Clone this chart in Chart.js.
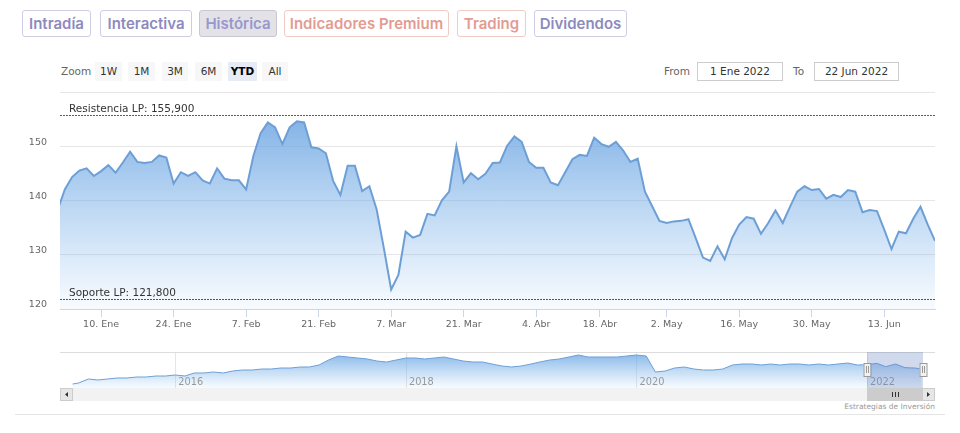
<!DOCTYPE html>
<html>
<head>
<meta charset="utf-8">
<script src="https://cdn.jsdelivr.net/npm/chart.js@4.4.1/dist/chart.umd.min.js"></script>
<style>
  body { margin: 0; background: #fff; width: 960px; height: 433px; overflow: hidden; position: relative; font-family: "DejaVu Sans", sans-serif; }
  .tab { position: absolute; top: 10px; height: 27px; box-sizing: border-box; border: 1px solid #cfcde3; border-radius: 3px;
         font: 600 15px Inter, sans-serif; line-height: 25px; text-align: center; color: #8d8ac0; }
  .tab.red { color: #e39b92; border-color: #f0cbc6; }
  .tab.on { background: #e2e2e7; border-color: #c8c8d4; color: #9a97cc; }
  .rs { position: absolute; top: 62px; height: 19px; line-height: 19px; font-size: 10.5px; color: #333; text-align: center; background: #f7f7f7; }
  .rs.on { background: #e6ebf5; font-weight: bold; color: #000; }
  .lbl { position: absolute; top: 62px; line-height: 19px; font-size: 10.5px; color: #666; }
  .inp { position: absolute; top: 62px; height: 19px; box-sizing: border-box; border: 1px solid #ccc; line-height: 17px; font-size: 10.5px; color: #333; text-align: center; }
  #main { position: absolute; left: 0; top: 84px; }
  #nav { position: absolute; left: 60px; top: 352px; }
  .credit { position: absolute; right: 25px; top: 402px; font-size: 7.5px; color: #999; }
  .rule { position: absolute; left: 15px; top: 414px; width: 930px; height: 1px; background: #e4e4e4; }
</style>
</head>
<body>
<div class="tab" style="left:22px;width:69px">Intradía</div>
<div class="tab" style="left:100px;width:92px">Interactiva</div>
<div class="tab on" style="left:199px;width:78px">Histórica</div>
<div class="tab red" style="left:284px;width:165px">Indicadores Premium</div>
<div class="tab red" style="left:457px;width:69px">Trading</div>
<div class="tab" style="left:534px;width:93px">Dividendos</div>

<div class="lbl" style="left:61px">Zoom</div>
<div class="rs" style="left:95px;width:27px">1W</div>
<div class="rs" style="left:128px;width:27px">1M</div>
<div class="rs" style="left:162px;width:26px">3M</div>
<div class="rs" style="left:195px;width:27px">6M</div>
<div class="rs on" style="left:228px;width:29px">YTD</div>
<div class="rs" style="left:262px;width:26px">All</div>

<div class="lbl" style="left:664px">From</div>
<div class="inp" style="left:697px;width:86px">1 Ene 2022</div>
<div class="lbl" style="left:793px">To</div>
<div class="inp" style="left:814px;width:85px">22 Jun 2022</div>

<canvas id="main" width="960" height="256"></canvas>
<canvas id="nav" width="875" height="49"></canvas>
<div class="credit">Estrategias de Inversión</div>
<div class="rule"></div>

<script>
// sesiones (la primera es el cierre de 2021)
const dates = [
  "2021-12-31",
  "2022-01-03","2022-01-04","2022-01-05","2022-01-06","2022-01-07","2022-01-10","2022-01-11","2022-01-12","2022-01-13","2022-01-14",
  "2022-01-17","2022-01-18","2022-01-19","2022-01-20","2022-01-21","2022-01-24","2022-01-25","2022-01-26","2022-01-27","2022-01-28","2022-01-31",
  "2022-02-01","2022-02-02","2022-02-03","2022-02-04","2022-02-07","2022-02-08","2022-02-09","2022-02-10","2022-02-11",
  "2022-02-14","2022-02-15","2022-02-16","2022-02-17","2022-02-18","2022-02-21","2022-02-22","2022-02-23","2022-02-24","2022-02-25","2022-02-28",
  "2022-03-01","2022-03-02","2022-03-03","2022-03-04","2022-03-07","2022-03-08","2022-03-09","2022-03-10","2022-03-11",
  "2022-03-14","2022-03-15","2022-03-16","2022-03-17","2022-03-18","2022-03-21","2022-03-22","2022-03-23","2022-03-24","2022-03-25",
  "2022-03-28","2022-03-29","2022-03-30","2022-03-31",
  "2022-04-01","2022-04-04","2022-04-05","2022-04-06","2022-04-07","2022-04-08","2022-04-11","2022-04-12","2022-04-13","2022-04-14",
  "2022-04-19","2022-04-20","2022-04-21","2022-04-22","2022-04-25","2022-04-26","2022-04-27","2022-04-28","2022-04-29",
  "2022-05-02","2022-05-03","2022-05-04","2022-05-05","2022-05-06","2022-05-09","2022-05-10","2022-05-11","2022-05-12","2022-05-13",
  "2022-05-16","2022-05-17","2022-05-18","2022-05-19","2022-05-20","2022-05-23","2022-05-24","2022-05-25","2022-05-26","2022-05-27",
  "2022-05-30","2022-05-31",
  "2022-06-01","2022-06-02","2022-06-03","2022-06-06","2022-06-07","2022-06-08","2022-06-09","2022-06-10",
  "2022-06-13","2022-06-14","2022-06-15","2022-06-16","2022-06-17","2022-06-20","2022-06-21","2022-06-22"
];
const prices = [
  138.3,
  142.1, 144.4, 145.6, 146.0, 144.6, 145.5, 146.6, 145.2, 147.1, 149.1,
  147.2, 147.0, 147.2, 148.4, 148.0, 143.2, 145.3, 144.6, 145.3, 143.8,
  143.2, 146.0, 144.1, 143.8, 143.8, 142.1, 148.3, 152.5, 154.5, 153.6,
  150.5, 153.6, 154.7, 154.5, 149.9, 149.7, 148.8, 143.7, 141.1, 146.5,
  146.5, 141.8, 142.7, 138.4, 131.2, 123.6, 126.3, 134.3, 133.2, 133.7,
  137.6, 137.3, 140.1, 141.7, 150.1, 143.4, 145.1, 144.0, 145.0, 147.0,
  147.1, 150.2, 151.9, 150.9, 147.2, 146.1, 146.1, 143.4, 142.9, 145.3,
  147.7, 148.5, 148.3, 151.7, 150.5, 150.0, 150.9, 149.3, 147.2, 147.8,
  141.7, 139.0, 136.3, 135.9, 136.2, 136.3, 136.6, 133.1, 129.5, 128.9,
  131.6, 129.2, 133.1, 135.6, 137.0, 136.7, 133.9, 135.9, 138.2, 135.9,
  138.9, 141.7, 142.7, 142.0, 142.2, 140.4, 141.1, 140.7, 142.0, 141.7,
  137.9, 138.3, 138.1, 134.7, 131.1, 134.3, 134.0, 136.7, 138.9, 135.6, 132.6
];

const rangeStart = "2022-01-01";
const rangeEnd = "2022-06-22";

const xTickDates = ["2022-01-10","2022-01-24","2022-02-07","2022-02-21","2022-03-07","2022-03-21",
                    "2022-04-04","2022-04-18","2022-05-02","2022-05-16","2022-05-30","2022-06-13"];
const xTickLabels = ["10. Ene","24. Ene","7. Feb","21. Feb","7. Mar","21. Mar",
                     "4. Abr","18. Abr","2. May","16. May","30. May","13. Jun"];
const yTicks = [120, 130, 140, 150, 160];
const yTickLabels = ["120", "130", "140", "150", ""];

const plotLineValues = [155.9, 121.8];
const plotLineLabels = ["Resistencia LP: 155,900", "Soporte LP: 121,800"];

// navegador: histórico mensual aproximado
const navDates = [
  "2015-02-10","2015-03-01","2015-04-01","2015-05-01","2015-06-01","2015-07-01","2015-08-01","2015-09-01","2015-10-01","2015-11-01","2015-12-01",
  "2016-01-01","2016-02-01","2016-03-01","2016-04-01","2016-05-01","2016-06-01","2016-07-01","2016-08-01","2016-09-01","2016-10-01","2016-11-01","2016-12-01",
  "2017-01-01","2017-02-01","2017-03-01","2017-04-01","2017-05-01","2017-06-01","2017-07-01","2017-08-01","2017-09-01","2017-10-01","2017-11-01","2017-12-01",
  "2018-01-01","2018-02-01","2018-03-01","2018-04-01","2018-05-01","2018-06-01","2018-07-01","2018-08-01","2018-09-01","2018-10-01","2018-11-01","2018-12-01",
  "2019-01-01","2019-02-01","2019-03-01","2019-04-01","2019-05-01","2019-06-01","2019-07-01","2019-08-01","2019-09-01","2019-10-01","2019-11-01","2019-12-01",
  "2020-01-01","2020-02-01","2020-03-01","2020-04-01","2020-05-01","2020-06-01","2020-07-01","2020-08-01","2020-09-01","2020-10-01","2020-11-01","2020-12-01",
  "2021-01-01","2021-02-01","2021-03-01","2021-04-01","2021-05-01","2021-06-01","2021-07-01","2021-08-01","2021-09-01","2021-10-01","2021-11-01","2021-12-01",
  "2022-01-01","2022-02-01","2022-03-01","2022-04-01","2022-05-01","2022-06-01","2022-06-22"
];
const navValues = [
  88, 91, 103, 100, 103, 106, 106, 109, 109, 112, 112,
  115, 112, 121, 121, 124, 121, 127, 130, 130, 133, 133, 136,
  136, 139, 139, 145, 160, 172, 169, 166, 163, 157, 154, 160,
  166, 166, 163, 166, 169, 163, 157, 154, 154, 148, 142, 139,
  142, 148, 154, 160, 163, 169, 175, 169, 169, 169, 169, 172,
  175, 172, 124, 127, 136, 139, 133, 130, 130, 133, 145, 148,
  148, 145, 148, 145, 148, 148, 145, 148, 145, 148, 151, 145,
  146, 150, 140, 148, 137, 136, 133
];
const navYears = [2016, 2018, 2020, 2022];
const navStart = "2015-01-01";
const navEnd = "2022-08-04";

function toTime(d) {
  return new Date(d + "T00:00:00Z").getTime();
}

// posición ordinal (por sesiones) de una fecha, interpolando si no cotiza
function tradingPos(d) {
  const i = dates.indexOf(d);
  if (i >= 0) return i;
  const t = toTime(d);
  let j = dates.findIndex(x => toTime(x) > t);
  if (j < 0) return dates.length - 1;
  if (j === 0) return 0;
  const t0 = toTime(dates[j - 1]), t1 = toTime(dates[j]);
  return j - 1 + (t - t0) / (t1 - t0);
}

function decYear(d) {
  const dt = new Date(d + "T00:00:00Z");
  const y = dt.getUTCFullYear();
  const s = Date.UTC(y, 0, 1), e = Date.UTC(y + 1, 0, 1);
  return y + (dt.getTime() - s) / (e - s);
}

function areaFill(top, bottom) {
  return function (c) {
    const a = c.chart.chartArea;
    if (!a) return null;
    const g = c.chart.ctx.createLinearGradient(0, a.top, 0, a.bottom);
    g.addColorStop(0, top);
    g.addColorStop(1, bottom);
    return g;
  };
}

const labelFont = { family: "DejaVu Sans", size: 9.5 };

// líneas de soporte y resistencia
const plotLinesPlugin = {
  id: "plotLines",
  afterDatasetsDraw(chart) {
    const { ctx, chartArea: a } = chart;
    const y = chart.scales.y;
    const colors = ["#4f6a4f", "#9c3b3b"];
    ctx.save();
    plotLineValues.forEach((v, i) => {
      const py = Math.round(y.getPixelForValue(v)) + 0.5;
      ctx.strokeStyle = colors[i];
      ctx.lineWidth = 1;
      ctx.setLineDash([2, 1]);
      ctx.beginPath();
      ctx.moveTo(a.left, py);
      ctx.lineTo(a.right, py);
      ctx.stroke();
      ctx.setLineDash([]);
      ctx.fillStyle = "#333";
      ctx.font = '10.5px "DejaVu Sans"';
      ctx.textBaseline = "alphabetic";
      ctx.fillText(plotLineLabels[i], a.left + 9, py - 4);
    });
    ctx.restore();
  }
};

new Chart(document.getElementById("main").getContext("2d"), {
  type: "line",
  data: {
    datasets: [{
      data: dates.map((d, i) => ({ x: i, y: prices[i] })),
      borderColor: "#6d9fd6",
      borderWidth: 2,
      pointRadius: 0,
      tension: 0,
      fill: "start",
      backgroundColor: areaFill("rgba(106,162,224,0.95)", "rgba(124,181,236,0.05)")
    }]
  },
  options: {
    responsive: false,
    animation: false,
    layout: { padding: { top: 0, right: 25, left: 0, bottom: 0 } },
    plugins: { legend: { display: false }, tooltip: { enabled: false } },
    scales: {
      x: {
        type: "linear",
        min: tradingPos(rangeStart),
        max: tradingPos(rangeEnd),
        afterBuildTicks: s => { s.ticks = xTickDates.map(d => ({ value: tradingPos(d) })); },
        afterFit: s => { s.height = 31; },
        ticks: { autoSkip: false, maxRotation: 0, color: "#666", font: labelFont, padding: 2,
                 callback: (v, i) => xTickLabels[i] },
        grid: { drawOnChartArea: false, drawTicks: true, tickLength: 8, color: "#ccd6eb" },
        border: { color: "#ccd6eb" }
      },
      y: {
        min: 120,
        max: 160,
        afterBuildTicks: s => { s.ticks = yTicks.map(v => ({ value: v })); },
        afterFit: s => { s.width = 60; },
        ticks: { color: "#666", font: labelFont, padding: 3, labelOffset: -4,
                 callback: (v, i) => yTickLabels[i] },
        grid: { color: "#e6e6e6", drawTicks: true, tickLength: 10, tickColor: "rgba(0,0,0,0)" },
        border: { display: false }
      }
    }
  },
  plugins: [plotLinesPlugin]
});

// navegador + barra de desplazamiento
const navPlugin = {
  id: "navDecor",
  beforeDatasetsDraw(chart) {
    const { ctx, chartArea: a } = chart;
    const xs = chart.scales.x;
    ctx.save();
    ctx.strokeStyle = "#e6e6e6";
    ctx.lineWidth = 1;
    navYears.forEach(yr => {
      const px = Math.round(xs.getPixelForValue(yr)) + 0.5;
      ctx.beginPath(); ctx.moveTo(px, a.top); ctx.lineTo(px, a.bottom); ctx.stroke();
    });
    ctx.restore();
  },
  afterDatasetsDraw(chart) {
    const { ctx, chartArea: a } = chart;
    const xs = chart.scales.x;
    ctx.save();
    ctx.fillStyle = "#999";
    ctx.font = '9.8px "DejaVu Sans"';
    ctx.textBaseline = "alphabetic";
    navYears.forEach(yr => ctx.fillText(String(yr), xs.getPixelForValue(yr) + 3, a.bottom - 3));

    ctx.strokeStyle = "#dcdcdc";
    ctx.beginPath(); ctx.moveTo(a.left, a.top + 0.5); ctx.lineTo(a.right, a.top + 0.5); ctx.stroke();

    const x0 = Math.round(xs.getPixelForValue(decYear(rangeStart)));
    const x1 = Math.round(xs.getPixelForValue(decYear(rangeEnd))) + 2;
    ctx.fillStyle = "rgba(102,133,194,0.3)";
    ctx.fillRect(x0, a.top, x1 - x0, a.bottom - a.top);

    // barra
    const sy = a.bottom, sh = 13;
    ctx.fillStyle = "#f2f2f2";
    ctx.fillRect(a.left, sy, a.right - a.left, sh);
    ctx.fillStyle = "#cccccc";
    ctx.fillRect(x0, sy, x1 - x0, sh);
    ctx.strokeStyle = "#333";
    const gx = Math.round((x0 + x1) / 2);
    [-3, 0, 3].forEach(o => { ctx.beginPath(); ctx.moveTo(gx + o + 0.5, sy + 4); ctx.lineTo(gx + o + 0.5, sy + 9); ctx.stroke(); });
    [[a.left, 1], [a.right - 13, -1]].forEach(([bx, dir]) => {
      ctx.fillStyle = "#e6e6e6";
      ctx.fillRect(bx, sy, 13, sh);
      ctx.strokeStyle = "#cccccc";
      ctx.strokeRect(bx + 0.5, sy + 0.5, 12, sh - 1);
      ctx.fillStyle = "#333";
      ctx.beginPath();
      const cx = bx + 6.5, cy = sy + 6.5;
      ctx.moveTo(cx - 1.5 * dir, cy);
      ctx.lineTo(cx + 1.5 * dir, cy - 2.5);
      ctx.lineTo(cx + 1.5 * dir, cy + 2.5);
      ctx.closePath();
      ctx.fill();
    });

    // asas
    [x0, x1].forEach(hx => {
      ctx.fillStyle = "#f2f2f2";
      ctx.strokeStyle = "#999";
      ctx.fillRect(hx - 3.5, a.top + 11, 7, 13);
      ctx.strokeRect(hx - 3.5 + 0.5, a.top + 11.5, 7, 13);
      [-1, 1].forEach(o => { ctx.beginPath(); ctx.moveTo(hx + o + 0.5, a.top + 14); ctx.lineTo(hx + o + 0.5, a.top + 21); ctx.stroke(); });
    });
    ctx.restore();
  }
};

new Chart(document.getElementById("nav").getContext("2d"), {
  type: "line",
  data: {
    datasets: [{
      data: navDates.map((d, i) => ({ x: decYear(d), y: navValues[i] })),
      borderColor: "#6d9fd6",
      borderWidth: 1,
      pointRadius: 0,
      tension: 0,
      fill: "start",
      backgroundColor: areaFill("rgba(110,166,228,0.85)", "rgba(124,181,236,0.05)")
    }]
  },
  options: {
    responsive: false,
    animation: false,
    layout: { padding: { top: 0, right: 0, left: 0, bottom: 13 } },
    plugins: { legend: { display: false }, tooltip: { enabled: false } },
    scales: {
      x: { type: "linear", display: false, min: decYear(navStart), max: decYear(navEnd) },
      y: { display: false, min: 76, max: 184 }
    }
  },
  plugins: [navPlugin]
});
</script>
</body>
</html>
